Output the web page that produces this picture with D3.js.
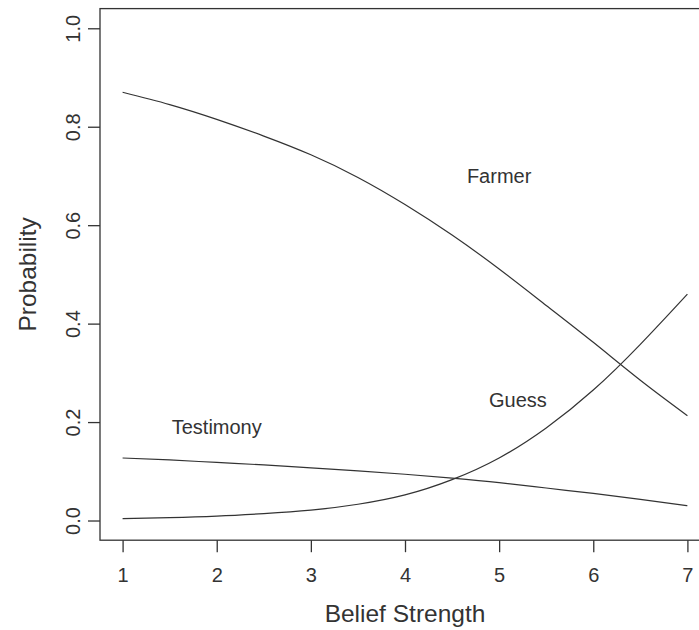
<!DOCTYPE html>
<html>
<head>
<meta charset="utf-8">
<script src="https://cdn.jsdelivr.net/npm/d3@7"></script>
<style>
	body { margin: 0; background: #fff; }
	svg { display: block; font-family: "Liberation Sans", Arial, sans-serif; }
</style>
</head>
<body>
<svg id="svg_chart" width="699" height="630"></svg>
<script>
// values
var beliefStrength = [1, 1.5, 2, 2.5, 3, 3.5, 4, 4.5, 5, 5.5, 6, 6.5, 7];
var farmerProb    = [0.870, 0.845, 0.815, 0.781, 0.743, 0.697, 0.642, 0.580, 0.511, 0.437, 0.362, 0.285, 0.213];
var guessProb     = [0.004, 0.006, 0.009, 0.014, 0.021, 0.033, 0.052, 0.083, 0.127, 0.188, 0.265, 0.358, 0.460];
var testimonyProb = [0.127, 0.123, 0.118, 0.113, 0.107, 0.101, 0.094, 0.086, 0.077, 0.066, 0.055, 0.043, 0.030];

var xTicks = [1, 2, 3, 4, 5, 6, 7];
var yTicks = [0, 0.2, 0.4, 0.6, 0.8, 1.0];
var yTickLabels = ["0.0", "0.2", "0.4", "0.6", "0.8", "1.0"];

// curve labels: [name, x, y]
var curveLabels = [
	["Farmer", 5, 0.70],
	["Guess", 5.2, 0.245],
	["Testimony", 2, 0.19]
];

var svg = d3.select("#svg_chart"),
	margin = { top: 8.6, left: 100, right: -11, bottom: 89.8 },
	width = +svg.attr("width"),
	height = +svg.attr("height");

var xScale = d3.scaleLinear()
	.domain([0.76, 7.24])
	.range([margin.left, width - margin.right]);
var yScale = d3.scaleLinear()
	.domain([-0.04, 1.04])
	.range([height - margin.bottom, margin.top]);

var ink = "#333";

// plot box
svg.append("rect")
	.attr("x", xScale.range()[0])
	.attr("y", yScale.range()[1])
	.attr("width", xScale.range()[1] - xScale.range()[0])
	.attr("height", yScale.range()[0] - yScale.range()[1])
	.attr("fill", "none")
	.attr("stroke", ink)
	.attr("stroke-width", 1.3);

// x axis
var gx = svg.append("g")
	.attr("transform", "translate(0," + yScale.range()[0] + ")")
	.call(d3.axisBottom(xScale).tickValues(xTicks).tickSize(12).tickFormat(d3.format("d")));
gx.select(".domain").remove();
gx.selectAll("line").attr("stroke", ink).attr("stroke-width", 1.3);
gx.selectAll("text")
	.attr("y", 42).attr("dy", 0)
	.attr("fill", ink)
	.style("font-size", "20px");

// y axis
var gy = svg.append("g")
	.attr("transform", "translate(" + xScale.range()[0] + ",0)")
	.call(d3.axisLeft(yScale).tickValues(yTicks).tickSize(12).tickFormat(function(d, i) {
		return yTickLabels[i];
	}));
gy.select(".domain").remove();
gy.selectAll("line").attr("stroke", ink).attr("stroke-width", 1.3);
gy.selectAll("text")
	.attr("transform", "rotate(-90)")
	.attr("x", 0).attr("y", -20).attr("dy", 0)
	.attr("text-anchor", "middle")
	.attr("fill", ink)
	.style("font-size", "20px");

// axis titles
svg.append("text")
	.attr("x", (xScale.range()[0] + xScale.range()[1]) / 2)
	.attr("y", 622)
	.attr("text-anchor", "middle")
	.attr("fill", ink)
	.style("font-size", "24.5px")
	.text("Belief Strength");

svg.append("text")
	.attr("transform", "translate(36," + (yScale.range()[0] + yScale.range()[1]) / 2 + ") rotate(-90)")
	.attr("text-anchor", "middle")
	.attr("fill", ink)
	.style("font-size", "24.5px")
	.text("Probability");

// curves
var series = [farmerProb, guessProb, testimonyProb];
var line = d3.line()
	.x(function(d, i) { return xScale(beliefStrength[i]); })
	.y(function(d) { return yScale(d); })
	.curve(d3.curveNatural);

svg.append("g").selectAll("path").data(series).enter()
	.append("path")
	.attr("d", function(d) { return line(d); })
	.attr("fill", "none")
	.attr("stroke", ink)
	.attr("stroke-width", 1.2);

svg.append("g").selectAll("text").data(curveLabels).enter()
	.append("text")
	.attr("x", function(d) { return xScale(d[1]); })
	.attr("y", function(d) { return yScale(d[2]); })
	.attr("dy", "0.35em")
	.attr("text-anchor", "middle")
	.attr("fill", ink)
	.style("font-size", "20px")
	.text(function(d) { return d[0]; });
</script>
</body>
</html>
